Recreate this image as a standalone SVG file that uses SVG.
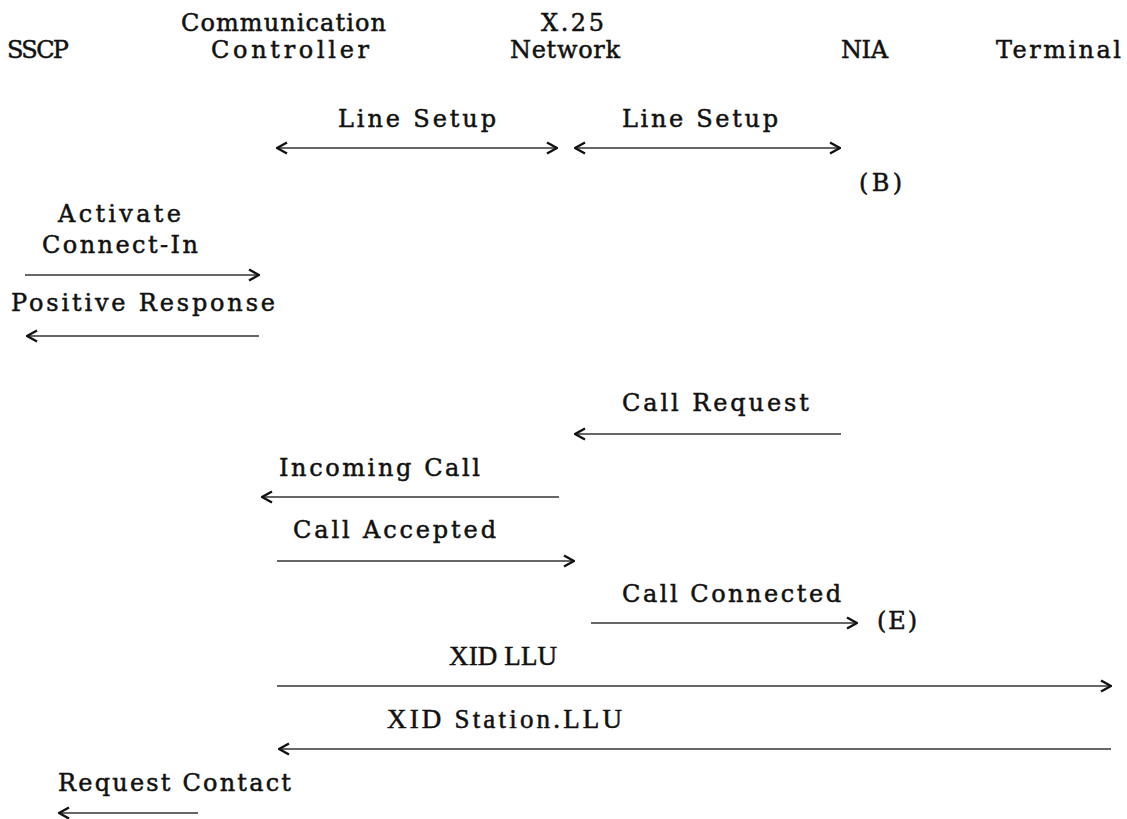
<svg xmlns="http://www.w3.org/2000/svg" width="1127" height="819" viewBox="0 0 1127 819">
  <style>
    .t { font-family: "DejaVu Serif", "Liberation Serif", serif; font-size: 24px; fill: #111; stroke: #111; stroke-width: 0.5px; }
    .n { font-family: "Liberation Serif", "DejaVu Serif", serif; font-size: 27px; fill: #111; stroke: #111; stroke-width: 0.5px; }
    .msg { stroke: #333; stroke-width: 1.6; fill: none; }
  </style>
  <defs>
    <!-- open chevron used at either end of a message line -->
    <marker id="chev" viewBox="0 0 12 14" refX="11" refY="7" markerWidth="12" markerHeight="14" markerUnits="userSpaceOnUse" orient="auto-start-reverse">
      <path d="M1,1.5 L11,7 L1,12.5" fill="none" stroke="#111" stroke-width="2.4"/>
    </marker>
  </defs>
  <rect width="1127" height="819" fill="#fff"/>

  <!-- participants -->
  <g id="sscp"><text class="t" x="7" y="58" textLength="62" lengthAdjust="spacing">SSCP</text></g>
  <g id="controller">
    <text class="t" x="181" y="31" textLength="205" lengthAdjust="spacing">Communication</text>
    <text class="t" x="211" y="58" textLength="158" lengthAdjust="spacing">Controller</text>
  </g>
  <g id="x25">
    <text class="t" x="541" y="31" textLength="63" lengthAdjust="spacing">X.25</text>
    <text class="t" x="510" y="58" textLength="110" lengthAdjust="spacing">Network</text>
  </g>
  <g id="nia"><text class="t" x="841" y="58" textLength="47" lengthAdjust="spacing">NIA</text></g>
  <g id="terminal"><text class="t" x="996" y="58" textLength="125" lengthAdjust="spacing">Terminal</text></g>

  <!-- message flows -->
  <g id="connectors">
    <line class="msg" x1="277" y1="148" x2="557" y2="148" marker-start="url(#chev)" marker-end="url(#chev)"/>
    <line class="msg" x1="575" y1="148" x2="840" y2="148" marker-start="url(#chev)" marker-end="url(#chev)"/>
    <line class="msg" x1="25" y1="275" x2="259" y2="275" marker-end="url(#chev)"/>
    <line class="msg" x1="259" y1="336" x2="27" y2="336" marker-end="url(#chev)"/>
    <line class="msg" x1="841" y1="434" x2="575" y2="434" marker-end="url(#chev)"/>
    <line class="msg" x1="559" y1="497" x2="262" y2="497" marker-end="url(#chev)"/>
    <line class="msg" x1="277" y1="561" x2="574" y2="561" marker-end="url(#chev)"/>
    <line class="msg" x1="591" y1="623" x2="857" y2="623" marker-end="url(#chev)"/>
    <line class="msg" x1="277" y1="686" x2="1111" y2="686" marker-end="url(#chev)"/>
    <line class="msg" x1="1111" y1="749" x2="279" y2="749" marker-end="url(#chev)"/>
    <line class="msg" x1="198" y1="813" x2="59" y2="813" marker-end="url(#chev)"/>
  </g>

  <!-- message labels -->
  <g id="labels">
    <text class="t" x="338" y="127" textLength="158" lengthAdjust="spacing">Line Setup</text>
    <text class="t" x="622" y="127" textLength="156" lengthAdjust="spacing">Line Setup</text>
    <text class="t" x="859" y="191" textLength="43" lengthAdjust="spacing">(B)</text>
    <text class="t" x="58" y="222" textLength="123" lengthAdjust="spacing">Activate</text>
    <text class="t" x="42" y="253" textLength="156" lengthAdjust="spacing">Connect-In</text>
    <text class="t" x="11" y="311" textLength="264" lengthAdjust="spacing">Positive Response</text>
    <text class="t" x="622" y="411" textLength="187" lengthAdjust="spacing">Call Request</text>
    <text class="t" x="279" y="476" textLength="201" lengthAdjust="spacing">Incoming Call</text>
    <text class="t" x="293" y="538" textLength="203" lengthAdjust="spacing">Call Accepted</text>
    <text class="t" x="622" y="602" textLength="219" lengthAdjust="spacing">Call Connected</text>
    <text class="t" x="877" y="629" textLength="40" lengthAdjust="spacing">(E)</text>
    <text class="n" x="449" y="665" textLength="108" lengthAdjust="spacing">XID LLU</text>
    <text class="n" x="387" y="728" textLength="235" lengthAdjust="spacing">XID Station.LLU</text>
    <text class="t" x="58" y="791" textLength="233" lengthAdjust="spacing">Request Contact</text>
  </g>
</svg>
